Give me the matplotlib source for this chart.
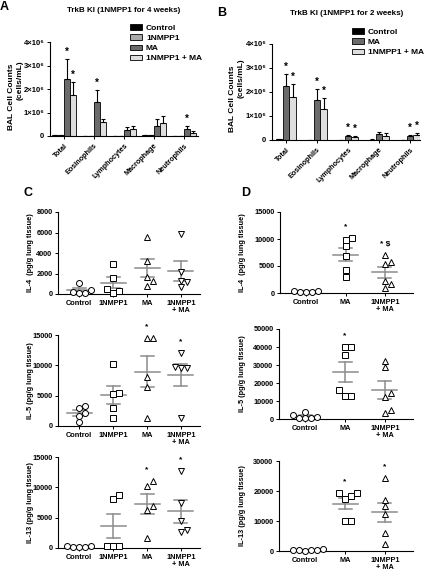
import matplotlib
matplotlib.use('Agg')
import matplotlib.pyplot as plt
import numpy as np
from matplotlib.patches import Patch

plt.rcParams['font.family'] = ['Liberation Sans', 'DejaVu Sans']
plt.rcParams['font.weight'] = 'bold'

# ---------------- data ----------------
cell_types = ['Total', 'Eosinophils', 'Lymphocytes', 'Macrophage', 'Neutrophils']
bal_ticks = [0, 1, 2, 3, 4]                       # x10^6 cells/mL
bal_ticklabels = ['0', '1×10⁶', '2×10⁶', '3×10⁶', '4×10⁶']

# Panel A (x10^6 cells/mL)
a_labels = ['Control', '1NMPP1', 'MA', '1NMPP1 + MA']
a_control = [0.05, 0.0, 0.0, 0.04, 0.0]
a_control_err = [0.01, 0.0, 0.0, 0.01, 0.0]
a_1nmpp1 = [0.04, 0.0, 0.0, 0.03, 0.0]
a_1nmpp1_err = [0.01, 0.0, 0.0, 0.01, 0.0]
a_ma = [2.44, 1.47, 0.26, 0.44, 0.29]
a_ma_err = [0.86, 0.50, 0.14, 0.29, 0.14]
a_combo = [1.76, 0.61, 0.29, 0.57, 0.14]
a_combo_err = [0.54, 0.10, 0.14, 0.29, 0.07]
a_star_ma = [True, True, False, False, True]
a_star_combo = [True, False, False, False, False]

# Panel B (x10^6 cells/mL)
b_labels = ['Control', 'MA', '1NMPP1 + MA']
b_control = [0.03, 0.0, 0.0, 0.02, 0.0]
b_control_err = [0.01, 0.0, 0.0, 0.01, 0.0]
b_ma = [2.26, 1.67, 0.17, 0.24, 0.15]
b_ma_err = [0.50, 0.45, 0.04, 0.11, 0.05]
b_combo = [1.78, 1.30, 0.12, 0.18, 0.21]
b_combo_err = [0.55, 0.44, 0.05, 0.10, 0.07]
b_star_ma = [True, True, True, False, True]
b_star_combo = [True, True, True, False, True]

# Panel C (pg/g lung tissue)
c_groups = ['Control', '1NMPP1', 'MA', '1NMPP1\n+ MA']
c_il4 = [[1100, 380, 150, 80, 60],
         [2950, 1600, 500, 100, 250],
         [5600, 3200, 1700, 800, 1300],
         [5900, 2100, 1300, 1200, 650]]
c_il5 = [[3300, 3000, 2200, 1700, 600],
         [10200, 5500, 5300, 2900, 1400],
         [14500, 14500, 8000, 6500, 1300],
         [12000, 9600, 9500, 9700, 1300]]
c_il13 = [[300, 250, 150, 100, 200],
          [8800, 8100, 400, 400, 400],
          [11000, 10200, 7000, 6200, 1700],
          [12700, 7400, 4500, 3000, 2700]]
c_il4_sig = ['', '', '', '']
c_il5_sig = ['', '', '*', '*']
c_il13_sig = ['', '', '*', '*']

# Panel D (pg/g lung tissue)
d_groups = ['Control', 'MA', '1NMPP1\n+ MA']
d_il4 = [[300, 200, 400, 100, 250],
         [10200, 9800, 8700, 6800, 4200, 3000],
         [7000, 5800, 5300, 2300, 1600, 1000]]
d_il5 = [[3800, 2000, 1200, 800, 400, 600],
         [40000, 40000, 35500, 16000, 13000, 13000],
         [32500, 29000, 14500, 12000, 5000, 3500]]
d_il13 = [[300, 200, 400, 100, 600, 250],
          [19300, 19200, 18500, 17500, 10000, 10000],
          [24500, 17000, 15000, 12500, 6000, 2500]]
d_il4_sig = ['', '*', '* $']
d_il5_sig = ['', '*', '']
d_il13_sig = ['', '*', '*']

# ---------------- layout helpers ----------------
W, H = 426, 570
fig = plt.figure(figsize=(W / 100, H / 100), dpi=100)


def add_ax(l, r, t, b):
    return fig.add_axes([l / W, 1 - b / H, (r - l) / W, (b - t) / H])


def ftxt(x, y, s, **kw):
    fig.text(x / W, 1 - y / H, s, **kw)


def style_axes(ax, fs):
    for s in ['top', 'right']:
        ax.spines[s].set_visible(False)
    for s in ['left', 'bottom']:
        ax.spines[s].set_linewidth(0.8)
    ax.tick_params(axis='both', length=2.5, width=0.7, pad=1.5, labelsize=fs)


# ---------------- bar panels ----------------
def bar_panel(ax, series, errs, colors, stars, width, xlim):
    n = len(series)
    x = np.arange(len(cell_types))
    for i, (vals, err, col) in enumerate(zip(series, errs, colors)):
        off = (i - (n - 1) / 2) * width
        v = np.array(vals) * 1e6
        e = np.array(err) * 1e6
        ax.bar(x + off, v, width=width, color=col, edgecolor='black', linewidth=0.6, zorder=2)
        ax.errorbar(x + off, v, yerr=[np.zeros_like(e), e], fmt='none', ecolor='black',
                    elinewidth=0.8, capsize=1.6, capthick=0.8, zorder=3)
        for j, flag in enumerate(stars[i]):
            if flag:
                ax.annotate('*', xy=(x[j] + off, v[j] + e[j]), xytext=(0, 1.5),
                            textcoords='offset points', ha='center', va='bottom',
                            fontsize=7, annotation_clip=False)
    ax.set_xlim(*xlim)
    ax.set_ylim(0, 4e6)
    ax.set_yticks(np.array(bal_ticks) * 1e6)
    ax.set_yticklabels(bal_ticklabels)
    ax.set_xticks(x)
    ax.set_xticklabels(cell_types, rotation=45, ha='right', rotation_mode='anchor')
    style_axes(ax, 5.5)
    ax.tick_params(axis='x', labelsize=5.2, pad=2)


col_ctrl, col_nm, col_ma, col_combo = '#000000', '#a9a9a9', '#6b6b6b', '#dedede'

axA = add_ax(50, 198, 42.5, 136)
bar_panel(axA, [a_control, a_1nmpp1, a_ma, a_combo],
          [a_control_err, a_1nmpp1_err, a_ma_err, a_combo_err],
          [col_ctrl, col_nm, col_ma, col_combo],
          [[False] * 5, [False] * 5, a_star_ma, a_star_combo], 0.2, (-0.47, 4.47))
axA.legend(handles=[Patch(facecolor=c, edgecolor='black', linewidth=0.6, label=l)
                    for c, l in zip([col_ctrl, col_nm, col_ma, col_combo], a_labels)],
           loc='upper left', bbox_to_anchor=(126 / W, 1 - 20 / H), bbox_transform=fig.transFigure,
           frameon=False, borderpad=0, fontsize=6, handlelength=1.4, handleheight=0.65,
           handletextpad=0.5, labelspacing=0.3)

axB = add_ax(272, 420, 44, 140)
bar_panel(axB, [b_control, b_ma, b_combo], [b_control_err, b_ma_err, b_combo_err],
          [col_ctrl, col_ma, col_combo],
          [[False] * 5, b_star_ma, b_star_combo], 0.215, (-0.45, 4.32))
axB.legend(handles=[Patch(facecolor=c, edgecolor='black', linewidth=0.6, label=l)
                    for c, l in zip([col_ctrl, col_ma, col_combo], b_labels)],
           loc='upper left', bbox_to_anchor=(348 / W, 1 - 24 / H), bbox_transform=fig.transFigure,
           frameon=False, borderpad=0, fontsize=6, handlelength=1.4, handleheight=0.65,
           handletextpad=0.5, labelspacing=0.3)

for xc in (12.5,):
    pass
ftxt(12, 97, 'BAL Cell Counts', rotation=90, ha='center', va='center', fontsize=6)
ftxt(20.5, 80, '(cells/mL)', rotation=90, ha='center', va='center', fontsize=6)
ftxt(233, 99, 'BAL Cell Counts', rotation=90, ha='center', va='center', fontsize=6)
ftxt(241.5, 78, '(cells/mL)', rotation=90, ha='center', va='center', fontsize=6)

ftxt(124, 10.5, 'TrkB KI (1NMPP1 for 4 weeks)', ha='center', va='center', fontsize=5.8)
ftxt(347, 13.5, 'TrkB KI (1NMPP1 for 2 weeks)', ha='center', va='center', fontsize=5.8)


# ---------------- scatter panels ----------------
def swarm(vals, ypx, d):
    order = np.argsort(vals)
    placed = []
    offs = np.zeros(len(vals))
    for i in order:
        y = vals[i] * ypx
        for k in [0, 1, -1, 2, -2, 3, -3]:
            xo = k * d
            if all((xo - px) ** 2 + (y - py) ** 2 >= (d * 0.98) ** 2 for px, py in placed):
                break
        placed.append((xo, y))
        offs[i] = xo
    return offs


def scatter_panel(box, groups, data, markers, yticks, ylabel, sig, xlim, ylab_x):
    l, r, t, b = box
    ax = add_ax(l, r, t, b)
    ymax = yticks[-1]
    ax.set_xlim(*xlim)
    ax.set_ylim(0, ymax)
    xpx = (r - l) / (xlim[1] - xlim[0])
    ypx = (b - t) / ymax
    for i, (vals, mk) in enumerate(zip(data, markers)):
        vals = np.array(vals, dtype=float)
        offs = swarm(vals, ypx, 6.0) / xpx
        ms = {'o': 4.3, 's': 4.0, '^': 4.6, 'v': 4.6}[mk]
        ax.plot(i + offs, vals, linestyle='none', marker=mk, markersize=ms,
                markerfacecolor='white', markeredgecolor='black', markeredgewidth=0.7,
                clip_on=False, zorder=3)
        m = vals.mean()
        se = vals.std(ddof=1) / np.sqrt(len(vals))
        hw = 12.5 / xpx
        cw = 6.5 / xpx
        gc = '#8c8c8c'
        ax.plot([i - hw, i + hw], [m, m], color=gc, lw=1.1, zorder=2, clip_on=False)
        ax.plot([i - cw, i + cw], [m + se, m + se], color=gc, lw=1.1, zorder=2, clip_on=False)
        ax.plot([i - cw, i + cw], [m - se, m - se], color=gc, lw=1.1, zorder=2, clip_on=False)
        ax.plot([i, i], [m - se, m + se], color=gc, lw=1.1, zorder=2, clip_on=False)
        if sig[i]:
            ax.annotate(sig[i], xy=(i, vals.max()), xytext=(0, 5.5), textcoords='offset points',
                        ha='center', va='bottom', fontsize=6, annotation_clip=False)
    ax.set_yticks(yticks)
    ax.set_yticklabels([str(v) for v in yticks])
    ax.set_xticks(range(len(groups)))
    ax.set_xticklabels(groups, linespacing=1.1)
    style_axes(ax, 5.3)
    ax.spines['bottom'].set_bounds(xlim[0], xlim[1])
    ftxt(ylab_x, (t + b) / 2, ylabel, rotation=90, ha='center', va='center', fontsize=5.3)
    return ax


c_mk = ['o', 's', '^', 'v']
d_mk = ['o', 's', '^']
cx = (-0.62, 3.56)
dx = (-0.66, 2.71)

scatter_panel((58, 200, 212, 294), c_groups, c_il4, c_mk, [0, 2000, 4000, 6000, 8000],
              'IL-4  (pg/g lung tissue)', c_il4_sig, cx, 30)
scatter_panel((58, 200, 335, 426), c_groups, c_il5, c_mk, [0, 5000, 10000, 15000],
              'IL-5 (pg/g lung tissue)', c_il5_sig, cx, 30)
scatter_panel((58, 200, 457, 548), c_groups, c_il13, c_mk, [0, 5000, 10000, 15000],
              'IL-13 (pg/g lung tissue)', c_il13_sig, cx, 30)

scatter_panel((280, 413, 212, 293), d_groups, d_il4, d_mk, [0, 5000, 10000, 15000],
              'IL-4  (pg/g lung tissue)', d_il4_sig, dx, 243)
scatter_panel((279, 413, 329, 419), d_groups, d_il5, d_mk, [0, 10000, 20000, 30000, 40000, 50000],
              'IL-5 (pg/g lung tissue)', d_il5_sig, dx, 243)
scatter_panel((279, 413, 461, 551), d_groups, d_il13, d_mk, [0, 10000, 20000, 30000],
              'IL-13 (pg/g lung tissue)', d_il13_sig, dx, 243)

# panel letters
ftxt(4.5, 7.5, 'A', fontsize=9, ha='center', va='center')
ftxt(221.5, 12.5, 'B', fontsize=9, ha='center', va='center')
ftxt(28, 193, 'C', fontsize=9, ha='center', va='center')
ftxt(245.5, 193, 'D', fontsize=9, ha='center', va='center')

fig.savefig('out.png', dpi=100)
